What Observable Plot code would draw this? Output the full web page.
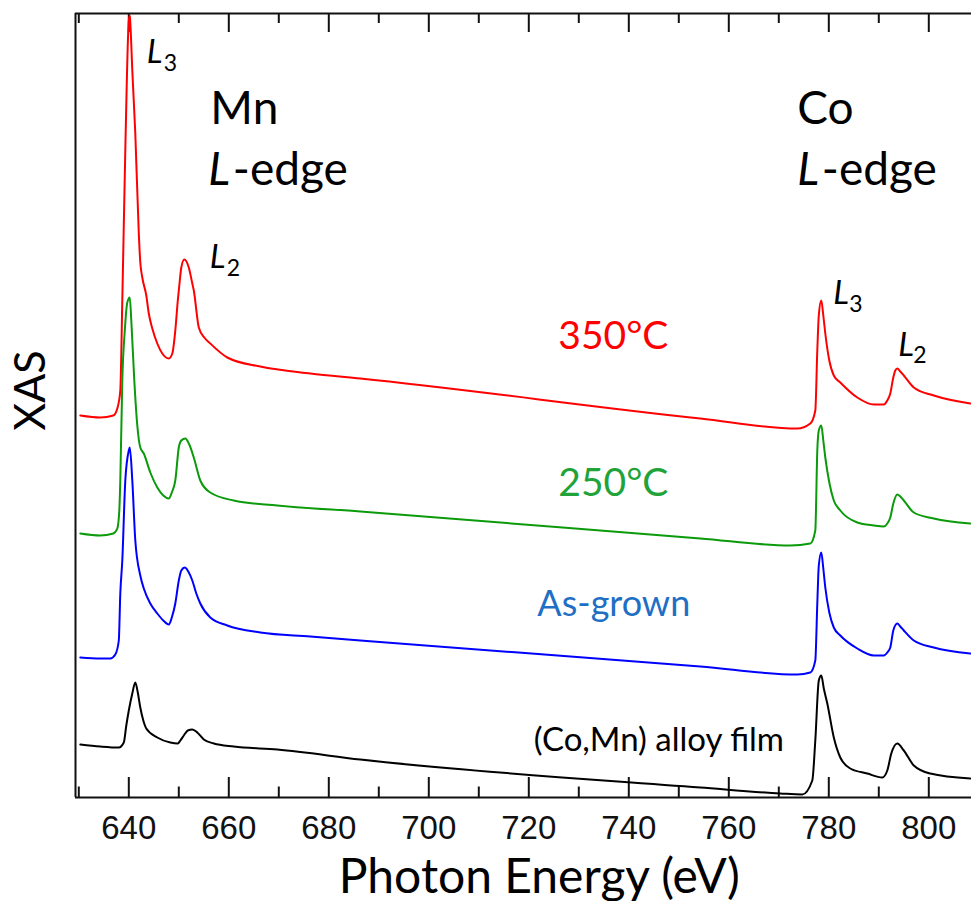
<!DOCTYPE html>
<html><head><meta charset="utf-8">
<script src="https://cdn.jsdelivr.net/npm/d3@7"></script>
<script src="https://cdn.jsdelivr.net/npm/@observablehq/plot@0.6"></script>
<style>html,body{margin:0;padding:0;background:#fff}</style>
</head><body><div id="chart"></div>
<script>
// ---- axis ticks ----
const xTicksMajor = [640, 660, 680, 700, 720, 740, 760, 780, 800];
const xTicksMinor = [630, 650, 670, 690, 710, 730, 750, 770, 790];
const xDomain = [629.34, 808.54];
const yDomain = [0, 7.84];

// ---- series (photon energy eV, XAS arb. units) ----
const red350E = [630.3,634.3,636.9,637.7,638.3,638.7,639.3,640.0,640.2,640.3,640.7,641.3,642.0,642.3,642.7,643.5,644.0,644.7,645.7,646.7,648.0,648.7,649.3,649.8,650.2,650.5,651.1,652.0,652.7,653.0,654.0,655.1,656.3,659.7,666.3,676.3,686.3,754.3,773.7,776.3,777.3,777.7,778.0,778.5,778.9,779.3,780.1,781.0,782.3,785.7,789.0,791.0,791.7,792.3,792.9,793.3,793.7,794.3,795.0,797.0,801.0,808.3];
const red350I = [3.82,3.80,3.82,3.89,4.07,4.97,6.47,7.77,7.82,7.75,7.27,6.64,5.64,5.35,5.20,5.02,4.84,4.69,4.54,4.44,4.39,4.44,4.67,4.97,5.17,5.30,5.38,5.30,5.14,5.07,4.70,4.60,4.54,4.40,4.31,4.24,4.19,3.79,3.69,3.74,3.87,4.47,4.82,4.97,4.82,4.64,4.37,4.22,4.15,4.00,3.93,3.93,3.97,4.04,4.20,4.27,4.29,4.26,4.22,4.10,4.02,3.94];

const green250E = [630.3,634.3,636.9,637.7,638.1,638.3,638.7,639.2,639.7,640.2,640.5,641.1,641.7,642.3,643.0,644.3,645.7,646.9,648.0,648.6,649.3,650.0,650.5,651.3,652.1,653.0,654.3,656.3,661.0,669.7,686.3,754.3,772.3,776.3,777.3,777.7,778.0,778.5,778.9,779.3,780.1,781.0,782.3,785.7,789.0,791.0,791.7,792.3,792.9,793.7,794.3,795.0,797.0,801.0,808.3];
const green250I = [2.64,2.62,2.64,2.69,2.87,3.17,4.17,4.67,4.95,5.00,4.77,4.17,3.72,3.50,3.44,3.25,3.10,3.02,2.99,3.05,3.17,3.50,3.57,3.59,3.53,3.40,3.17,3.05,2.97,2.92,2.86,2.59,2.52,2.54,2.67,3.47,3.67,3.72,3.57,3.40,3.15,2.97,2.87,2.75,2.72,2.71,2.74,2.80,2.94,3.03,3.01,2.97,2.85,2.79,2.74];

const blueAsE = [630.3,634.3,636.3,637.3,638.0,638.3,638.7,639.3,640.0,640.2,640.7,641.3,642.3,643.0,644.3,645.7,646.9,648.0,648.6,649.3,650.0,650.5,651.2,651.9,652.7,653.5,654.3,656.3,659.7,666.3,676.3,686.3,754.3,773.7,776.3,777.3,777.7,778.0,778.5,778.9,779.3,780.1,781.0,782.3,785.7,789.0,791.0,791.7,792.3,792.9,793.7,794.3,795.0,797.0,801.0,808.3];
const blueAsI = [1.40,1.39,1.39,1.43,1.57,2.04,2.37,3.17,3.47,3.50,3.17,2.57,2.22,2.09,1.94,1.84,1.77,1.73,1.80,1.94,2.17,2.27,2.30,2.26,2.17,2.04,1.94,1.80,1.72,1.65,1.61,1.57,1.31,1.23,1.25,1.37,1.94,2.32,2.45,2.29,2.10,1.85,1.70,1.62,1.49,1.42,1.42,1.45,1.50,1.67,1.74,1.71,1.67,1.57,1.50,1.44];

const blackAlloyE = [630.3,634.3,638.0,639.0,639.5,640.0,640.7,641.3,641.8,642.3,642.9,643.5,645.7,648.3,649.8,650.3,651.0,651.8,652.7,653.7,655.0,657.0,661.0,669.7,686.3,754.3,770.3,774.7,776.7,777.3,778.0,778.5,779.0,779.7,781.0,782.3,784.3,787.7,790.7,791.7,792.5,793.7,795.0,797.0,800.3,808.3];
const blackAlloyI = [0.53,0.51,0.50,0.55,0.72,0.87,1.04,1.15,1.05,0.90,0.77,0.69,0.60,0.55,0.54,0.57,0.62,0.67,0.68,0.65,0.58,0.54,0.51,0.48,0.38,0.10,0.04,0.03,0.17,0.57,1.17,1.22,1.09,0.94,0.60,0.40,0.29,0.24,0.20,0.27,0.44,0.54,0.47,0.32,0.24,0.19];

const seriesNames = ["350°C", "250°C", "As-grown", "(Co,Mn) alloy film"];
const lineColors = ["#ff0000", "#0a9a0a", "#0000ff", "#000000"];
const labelColors = ["#ff0000", "#22a33a", "#1f6fc5", "#000000"];
const seriesE = [red350E, green250E, blueAsE, blackAlloyE];
const seriesI = [red350I, green250I, blueAsI, blackAlloyI];

// series label anchors (left, baseline)
const seriesLabelE = [725.9, 725.9, 721.7, 721.0];
const seriesLabelI = [4.49, 3.02, 1.82, 0.47];
const seriesLabelSize = [39, 39, 36, 33];

// edge labels
const edgeText = ["Mn", "Co"];
const edgeE = [656.3, 773.7];
const edgeI = [6.74, 6.74];
const edgeLE = [655.9, 773.7];
const edgeDashE = [660.8, 778.6];
const edgeLI = [6.13, 6.13];

// peak labels L3 / L2
const peakSub = ["3", "2", "3", "2"];
const peakE = [643.6, 656.2, 780.9, 793.9];
const peakI = [7.35, 5.30, 4.94, 4.42];
const peakSubE = [647.0, 659.6, 784.1, 796.9];
const peakSubI = [7.27, 5.22, 4.86, 4.35];

// axis titles
const xTitle = "Photon Energy (eV)";
const yTitle = "XAS";

// ---- build tables ----
const rows = seriesNames.flatMap((n, k) => seriesE[k].map((e, i) => ({series: n, energy: e, xas: seriesI[k][i], color: lineColors[k]})));
const seriesLabels = seriesNames.map((n, k) => ({text: n, energy: seriesLabelE[k], xas: seriesLabelI[k], size: seriesLabelSize[k], color: labelColors[k]}));
const edgeNames = edgeText.map((t, k) => ({text: t, energy: edgeE[k], xas: edgeI[k]}));
const edgeL = edgeText.map((t, k) => ({text: "L", energy: edgeLE[k], xas: edgeLI[k]}));
const edgeDash = edgeText.map((t, k) => ({text: "-edge", energy: edgeDashE[k], xas: edgeLI[k]}));
const peakL = peakSub.map((s, k) => ({text: "L", energy: peakE[k], xas: peakI[k]}));
const peakS = peakSub.map((s, k) => ({text: s, energy: peakSubE[k], xas: peakSubI[k]}));
const titles = [
  {text: xTitle, energy: 722.1, xas: -0.95},
  {text: yTitle, energy: 620.5, xas: 4.07}
];

const sans = "Lato, 'Open Sans', sans-serif";
const tickFont = "'Liberation Sans Narrow', 'Liberation Sans', Arial, sans-serif";

const chart = Plot.plot({
  width: 971,
  height: 901,
  marginTop: 13,
  marginBottom: 104,
  marginLeft: 75,
  marginRight: 0,
  style: {fontFamily: tickFont, fontSize: "33px", background: "#ffffff", color: "#111"},
  x: {domain: xDomain, label: null},
  y: {domain: yDomain, axis: null},
  marks: [
    Plot.axisX({ticks: xTicksMajor, tickSize: 0, tickPadding: 18, label: null, tickFormat: d => String(d)}),
    // frame
    Plot.ruleX([xDomain[0]], {stroke: "#111", strokeWidth: 2}),
    Plot.ruleY([yDomain[0]], {stroke: "#111", strokeWidth: 2}),
    Plot.ruleY([yDomain[1]], {stroke: "#111", strokeWidth: 2}),
    // inward ticks
    Plot.ruleX(xTicksMajor, {x: d => d, y1: 0, y2: 0.20, stroke: "#111", strokeWidth: 2}),
    Plot.ruleX(xTicksMinor, {x: d => d, y1: 0, y2: 0.105, stroke: "#111", strokeWidth: 2}),
    Plot.ruleX(xTicksMajor, {x: d => d, y1: yDomain[1], y2: yDomain[1] - 0.19, stroke: "#111", strokeWidth: 2}),
    Plot.ruleX(xTicksMinor, {x: d => d, y1: yDomain[1], y2: yDomain[1] - 0.10, stroke: "#111", strokeWidth: 2}),
    // spectra
    Plot.line(rows, {x: "energy", y: "xas", z: "series", stroke: "color", strokeWidth: 2, curve: "monotone-x"}),
    // series labels
    Plot.text(seriesLabels, {x: "energy", y: "xas", text: "text", fill: "color", fontSize: "size", fontFamily: sans, textAnchor: "start", lineAnchor: "bottom"}),
    // edge labels
    Plot.text(edgeNames, {x: "energy", y: "xas", text: "text", fill: "#000", fontSize: 46, fontFamily: sans, textAnchor: "start", lineAnchor: "bottom"}),
    Plot.text(edgeL, {x: "energy", y: "xas", text: "text", fill: "#000", fontSize: 46, fontStyle: "italic", fontFamily: sans, textAnchor: "start", lineAnchor: "bottom"}),
    Plot.text(edgeDash, {x: "energy", y: "xas", text: "text", fill: "#000", fontSize: 46, fontFamily: sans, textAnchor: "start", lineAnchor: "bottom"}),
    // peak labels
    Plot.text(peakL, {x: "energy", y: "xas", text: "text", fill: "#000", fontSize: 33, fontStyle: "italic", fontFamily: sans, textAnchor: "start", lineAnchor: "bottom"}),
    Plot.text(peakS, {x: "energy", y: "xas", text: "text", fill: "#000", fontSize: 23, fontFamily: sans, textAnchor: "start", lineAnchor: "bottom"}),
    // axis titles
    Plot.text(titles.slice(0, 1), {x: "energy", y: "xas", text: "text", fontSize: 48, fontFamily: sans, fill: "#000", lineAnchor: "bottom"}),
    Plot.text(titles.slice(1), {x: "energy", y: "xas", text: "text", rotate: -90, fontSize: 43, fontFamily: sans, fill: "#000", lineAnchor: "middle"})
  ]
});
document.getElementById("chart").appendChild(chart);
</script>
</body></html>
